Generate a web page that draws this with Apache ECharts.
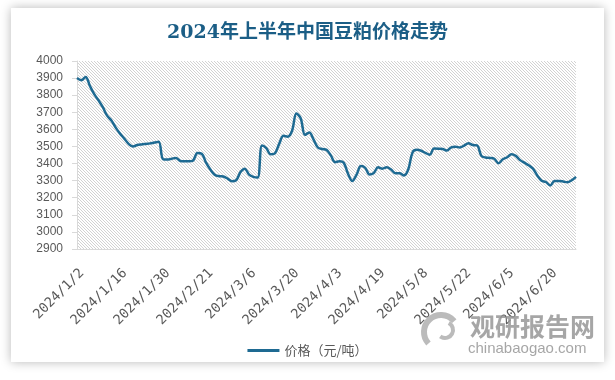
<!DOCTYPE html>
<html><head><meta charset="utf-8">
<script src="https://cdn.jsdelivr.net/npm/echarts@6/dist/echarts.min.js"></script>
<style>html,body{margin:0;padding:0;background:#fff;}#c{width:615px;height:380px;}</style>
</head><body><div id="c"></div>
<script>
const titleText = '2024年上半年中国豆粕价格走势';
const seriesName = '价格（元/吨）';
const categories = [
"2024/1/2","2024/1/3","2024/1/4","2024/1/5","2024/1/8","2024/1/9","2024/1/10","2024/1/11","2024/1/12","2024/1/15",
"2024/1/16","2024/1/17","2024/1/18","2024/1/19","2024/1/22","2024/1/23","2024/1/24","2024/1/25","2024/1/26","2024/1/29",
"2024/1/30","2024/1/31","2024/2/1","2024/2/2","2024/2/5","2024/2/6","2024/2/7","2024/2/8","2024/2/19","2024/2/20",
"2024/2/21","2024/2/22","2024/2/23","2024/2/26","2024/2/27","2024/2/28","2024/2/29","2024/3/1","2024/3/4","2024/3/5",
"2024/3/6","2024/3/7","2024/3/8","2024/3/11","2024/3/12","2024/3/13","2024/3/14","2024/3/15","2024/3/18","2024/3/19",
"2024/3/20","2024/3/21","2024/3/22","2024/3/25","2024/3/26","2024/3/27","2024/3/28","2024/3/29","2024/4/1","2024/4/2",
"2024/4/3","2024/4/8","2024/4/9","2024/4/10","2024/4/11","2024/4/12","2024/4/15","2024/4/16","2024/4/17","2024/4/18",
"2024/4/19","2024/4/22","2024/4/23","2024/4/24","2024/4/25","2024/4/26","2024/4/29","2024/4/30","2024/5/6","2024/5/7",
"2024/5/8","2024/5/9","2024/5/10","2024/5/13","2024/5/14","2024/5/15","2024/5/16","2024/5/17","2024/5/20","2024/5/21",
"2024/5/22","2024/5/23","2024/5/24","2024/5/27","2024/5/28","2024/5/29","2024/5/30","2024/5/31","2024/6/3","2024/6/4",
"2024/6/5","2024/6/6","2024/6/7","2024/6/11","2024/6/12","2024/6/13","2024/6/14","2024/6/17","2024/6/18","2024/6/19",
"2024/6/20","2024/6/21","2024/6/24","2024/6/25","2024/6/26","2024/6/27","2024/6/28"
];
const prices = [
3900,3887,3907,3854,3806,3770,3730,3680,3652,3610,
3575,3546,3515,3500,3508,3512,3515,3518,3523,3527,
3425,3423,3428,3433,3415,3413,3413,3418,3462,3458,
3405,3365,3335,3326,3324,3312,3297,3302,3350,3370,
3335,3322,3318,3505,3490,3455,3460,3515,3562,3557,
3592,3693,3665,3568,3582,3540,3494,3485,3480,3448,
3408,3413,3405,3340,3298,3335,3385,3375,3336,3345,
3378,3370,3378,3365,3343,3343,3330,3365,3465,3480,
3475,3462,3452,3488,3487,3485,3476,3495,3498,3494,
3505,3519,3508,3506,3445,3435,3433,3428,3402,3425,
3437,3455,3445,3420,3405,3390,3370,3330,3300,3292,
3272,3298,3298,3295,3290,3302,3322
];
const yMin = 2900, yMax = 4000, yStep = 100;
const watermarkCN = '观研报告网';
const watermarkEN = 'chinabaogao.com';

const P = 3;
const pc = document.createElement('canvas'); pc.width = P; pc.height = P;
const pctx = pc.getContext('2d');
pctx.fillStyle = '#ffffff'; pctx.fillRect(0,0,P,P);
pctx.fillStyle = '#d2d2d2';
for (let i = 0; i < P; i++) pctx.fillRect(i, i, 1, 1);

const chart = echarts.init(document.getElementById('c'), null, {renderer:'canvas'});
chart.setOption({
  animation: false,
  backgroundColor: '#ffffff',
  title: {
    text: titleText, left: 'center', top: 19,
    textStyle: {fontSize: 19, fontWeight: 'bold', color: '#1b5e86', fontFamily: '"DejaVu Serif", "Noto Sans CJK SC", serif'}
  },
  grid: {
    left: 77, right: 39, top: 61, bottom: 131, show: true, borderWidth: 0,
    backgroundColor: {image: pc, repeat: 'repeat'}
  },
  legend: {
    top: 339, left: 'center', icon: 'rect', itemWidth: 32, itemHeight: 3,
    textStyle: {fontSize: 13, color: '#595959', fontFamily: '"Noto Sans CJK SC", sans-serif'},
    data: [seriesName]
  },
  xAxis: {
    type: 'category', data: categories, boundaryGap: false,
    axisLine: {lineStyle: {color: '#d9d9d9'}},
    axisTick: {show: false},
    axisLabel: {interval: 9, rotate: 45, margin: 17, verticalAlign: 'top', color: '#595959', fontSize: 13.5, fontFamily: '"DejaVu Sans Mono", monospace'}
  },
  yAxis: {
    type: 'value', min: yMin, max: yMax, interval: yStep,
    splitLine: {show: false},
    axisLine: {show: true, lineStyle: {color: '#d9d9d9'}},
    axisTick: {show: true, length: 5, lineStyle: {color: '#d9d9d9'}},
    axisLabel: {margin: 14, color: '#595959', fontSize: 12, fontFamily: '"Liberation Sans", sans-serif', formatter: v => String(v)}
  },
  series: [{
    name: seriesName, type: 'line', data: prices, smooth: 0.35,
    showSymbol: false, symbol: 'none',
    lineStyle: {width: 2.5, color: '#1e6a92'},
    itemStyle: {color: '#1e6a92'}
  }],
  graphic: [
    {type: 'rect', z: -100, silent: true, shape: {x: 11, y: 8, width: 593, height: 354},
     style: {fill: '#ffffff', shadowBlur: 10, shadowColor: 'rgba(0,0,0,0.28)'}},
    {type: 'arc', z: 100, silent: true, shape: {cx: 441, cy: 332, r: 17, startAngle: 2.4, endAngle: 5.6},
     style: {stroke: 'rgba(175,175,175,0.85)', lineWidth: 6, fill: null}},
    {type: 'arc', z: 100, silent: true, shape: {cx: 445, cy: 330, r: 8, startAngle: 5.2, endAngle: 2.2},
     style: {stroke: 'rgba(175,175,175,0.85)', lineWidth: 4, fill: null}},
    {type: 'text', z: 100, silent: true, left: 470, top: 314,
     style: {text: watermarkCN, fontSize: 25, fontWeight: 'bold', fill: 'rgba(150,150,150,0.85)', fontFamily: '"Noto Sans CJK SC", sans-serif'}},
    {type: 'text', z: 100, silent: true, left: 468, top: 341,
     style: {text: watermarkEN, fontSize: 15, fill: 'rgba(150,150,150,0.85)', fontFamily: '"Liberation Sans", sans-serif'}}
  ]
});
</script>
</body></html>
